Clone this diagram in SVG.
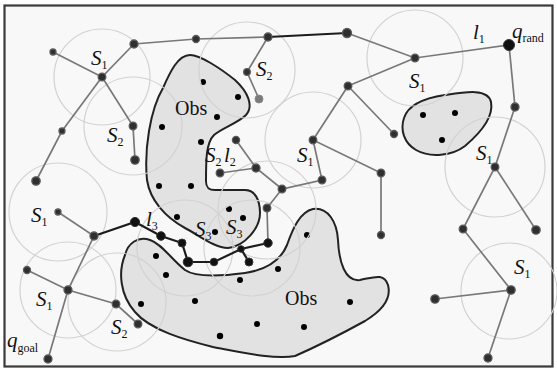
<svg xmlns="http://www.w3.org/2000/svg" width="557" height="372" viewBox="0 0 557 372">
<style>
.obs{fill:#e2e2e2;stroke:#222;stroke-width:2}
.rg{fill:none;stroke:#d2d2d2;stroke-width:1.2}
.e{stroke:#787878;stroke-width:1.7;fill:none}
.b{stroke:#1c1c1c;stroke-width:2.2;fill:none}
.n{fill:#2f2f2f;stroke:#5a5a5a;stroke-width:1.3}
.nb{fill:#111;stroke:#333;stroke-width:1}
.d{fill:#000}
.lab{font-family:"Liberation Serif",serif;font-style:italic;font-size:21px;fill:#111}
.sub{font-style:normal;font-size:12px}
.ob{font-family:"Liberation Serif",serif;font-size:20px;fill:#111}
</style>
<rect x="0" y="0" width="557" height="372" fill="#ffffff"/>
<rect x="4.5" y="5.5" width="548" height="361" fill="#f8f8f8" stroke="#3a3a3a" stroke-width="2.2"/>
<g id="obstacles">
<path class="obs" d="M190,55 C200,55 220,68 235,80 C248,92 254,106 246,115 C238,123 222,128 214,135 C206,143 206,160 206,181 C206,188 209,190 215,190 L245,190 C255,190 260,200 260,213 C260,228 245,246 228,248 C215,248 200,236 185,228 C165,217 150,200 147,180 C144,150 150,110 163,88 C170,72 178,55 190,55 Z"/>
<path class="obs" d="M125,255 C128,243 138,236 150,240 C162,244 170,258 185,270 C195,277 215,277 245,273 C265,270 280,262 287,245 C293,228 300,212 313,209 C328,207 337,222 338,240 C339,262 345,282 360,280 C372,278 384,272 388,285 C392,300 380,312 365,321 C345,332 320,345 295,356 C275,360 240,352 213,347 C185,340 150,330 135,312 C120,295 118,272 125,255 Z"/>
<path class="obs" d="M404,118 C408,105 425,98 445,95 C465,92 488,88 491,102 C494,118 478,135 465,146 C452,156 430,158 416,150 C404,143 400,130 404,118 Z"/>
<g id="obstacle-points">
<circle class="d" cx="203" cy="82" r="3"/><circle class="d" cx="238" cy="97" r="3"/><circle class="d" cx="217" cy="117" r="3"/><circle class="d" cx="162" cy="127" r="3"/><circle class="d" cx="201" cy="142" r="3"/><circle class="d" cx="159" cy="186" r="3"/><circle class="d" cx="191" cy="186" r="3"/><circle class="d" cx="177" cy="217" r="3"/><circle class="d" cx="229" cy="209" r="3"/><circle class="d" cx="243" cy="218" r="3"/><circle class="d" cx="215" cy="232" r="3"/>
<circle class="d" cx="156" cy="256" r="3"/><circle class="d" cx="166" cy="275" r="3"/><circle class="d" cx="141" cy="304" r="3"/><circle class="d" cx="307" cy="235" r="3"/><circle class="d" cx="278" cy="269" r="3"/><circle class="d" cx="240" cy="280" r="3"/><circle class="d" cx="195" cy="301" r="3"/><circle class="d" cx="257" cy="324" r="3"/><circle class="d" cx="220" cy="336" r="3.2"/><circle class="d" cx="304" cy="327" r="3"/><circle class="d" cx="350" cy="302" r="3"/>
<circle class="d" cx="423" cy="115" r="3"/><circle class="d" cx="455" cy="113" r="3"/><circle class="d" cx="442" cy="140" r="3"/>
</g>
</g>
<g id="regions">
<circle class="rg" cx="102" cy="77" r="48"/>
<circle class="rg" cx="133" cy="126" r="49"/>
<circle class="rg" cx="247" cy="70" r="48"/>
<circle class="rg" cx="415" cy="58" r="48"/>
<circle class="rg" cx="313" cy="140" r="48"/>
<circle class="rg" cx="495" cy="167" r="50"/>
<circle class="rg" cx="509" cy="291" r="48"/>
<circle class="rg" cx="58" cy="212" r="49"/>
<circle class="rg" cx="68" cy="290" r="48"/>
<circle class="rg" cx="117" cy="302" r="49"/>
<circle class="rg" cx="185" cy="248" r="48"/>
<circle class="rg" cx="267" cy="210" r="49"/>
<circle class="rg" cx="252" cy="248" r="48"/>
</g>
<g id="connectors">
<path class="e" d="M53,52 L102,77 L134,44 L196,39 L268,37"/>
<path class="b" d="M268,37 L347,33"/>
<path class="e" d="M347,33 L415,58 L509,45 L515,107 L495,167 L463,229 L511,290 L435,299"/>
<path class="e" d="M495,167 L536,230"/>
<path class="e" d="M511,290 L488,358"/>
<path class="e" d="M348,86 L415,58"/>
<path class="e" d="M348,86 L394,134"/>
<path class="e" d="M268,37 L247,72 L259,99"/>
<path class="e" d="M348,86 L313,140 L381,173 L381,235"/>
<path class="e" d="M313,140 L322,180 L282,189 L256,168 L236,140"/>
<path class="e" d="M256,168 L220,173"/>
<path class="e" d="M282,189 L267,208 L268,243"/>
<path class="b" d="M268,243 L241,249 L214,262 L188,262 L182,243 L161,236 L135,222 L94,236"/>
<path class="b" d="M241,249 L249,262"/>
<path class="e" d="M58,212 L94,236 L68,290 L48,359"/>
<path class="e" d="M27,270 L68,290 L116,304 L138,324"/>
<path class="e" d="M102,77 L62,131 L36,181"/>
<path class="e" d="M102,77 L133,126 L135,160"/>
</g>
<g id="nodes">
<g id="n1"><circle class="n" cx="53" cy="52" r="3"/></g>
<g id="n2"><circle class="n" cx="102" cy="77" r="3.8"/></g>
<g id="n3"><circle class="n" cx="134" cy="44" r="4"/></g>
<g id="n4"><circle class="n" cx="196" cy="39" r="3.5"/></g>
<g id="n5"><circle class="n" cx="268" cy="37" r="4"/></g>
<g id="n6"><circle class="n" cx="347" cy="33" r="4.5"/></g>
<g id="n7"><circle class="n" cx="415" cy="58" r="3.8"/></g>
<g id="qrand"><circle class="nb" cx="509" cy="45" r="5.5"/></g>
<g id="n9"><circle class="n" cx="515" cy="107" r="4"/></g>
<g id="n10"><circle class="n" cx="495" cy="167" r="3.8"/></g>
<g id="n11"><circle class="n" cx="463" cy="229" r="3.8"/></g>
<g id="n12"><circle class="n" cx="536" cy="230" r="4.2"/></g>
<g id="n13"><circle class="n" cx="511" cy="290" r="4.2"/></g>
<g id="n14"><circle class="n" cx="435" cy="299" r="4.2"/></g>
<g id="n15"><circle class="n" cx="488" cy="358" r="4"/></g>
<g id="n16"><circle class="n" cx="247" cy="72" r="3.3"/></g>
<g id="qnew"><circle cx="259" cy="99" r="4" fill="#7a7a7a" stroke="#8a8a8a"/></g>
<g id="n18"><circle class="n" cx="348" cy="86" r="3.8"/></g>
<g id="n19"><circle class="n" cx="394" cy="134" r="3.5"/></g>
<g id="n20"><circle class="n" cx="313" cy="140" r="3.8"/></g>
<g id="n21"><circle class="n" cx="381" cy="173" r="3.8"/></g>
<g id="n22"><circle class="n" cx="381" cy="235" r="3.5"/></g>
<g id="n23"><circle class="n" cx="322" cy="180" r="3.8"/></g>
<g id="n24"><circle class="n" cx="282" cy="189" r="3.8"/></g>
<g id="n25"><circle class="n" cx="256" cy="168" r="4"/></g>
<g id="n26"><circle class="n" cx="236" cy="140" r="3.6"/></g>
<g id="n27"><circle class="n" cx="220" cy="173" r="3.8"/></g>
<g id="n28"><circle class="n" cx="267" cy="208" r="3.8"/></g>
<g id="n29"><circle class="nb" cx="268" cy="243" r="4.2"/></g>
<g id="n30"><circle class="nb" cx="241" cy="249" r="3.3"/></g>
<g id="n31"><circle class="nb" cx="249" cy="262" r="4"/></g>
<g id="n32"><circle class="nb" cx="214" cy="262" r="3.8"/></g>
<g id="n33"><circle class="nb" cx="188" cy="262" r="4.8"/></g>
<g id="n34"><circle class="nb" cx="182" cy="243" r="4"/></g>
<g id="n35"><circle class="nb" cx="161" cy="236" r="4.3"/></g>
<g id="n36"><circle class="nb" cx="135" cy="222" r="4.6"/></g>
<g id="n37"><circle class="n" cx="94" cy="236" r="4"/></g>
<g id="n38"><circle class="n" cx="58" cy="212" r="3"/></g>
<g id="n39"><circle class="n" cx="68" cy="290" r="4"/></g>
<g id="n40"><circle class="n" cx="27" cy="270" r="3.5"/></g>
<g id="n41"><circle class="n" cx="116" cy="304" r="3.8"/></g>
<g id="n42"><circle class="n" cx="138" cy="324" r="3.8"/></g>
<g id="qgoal"><circle class="n" cx="48" cy="359" r="4"/></g>
<g id="n44"><circle class="n" cx="62" cy="131" r="3"/></g>
<g id="n45"><circle class="n" cx="36" cy="181" r="4.2"/></g>
<g id="n46"><circle class="n" cx="133" cy="126" r="3.8"/></g>
<g id="n47"><circle class="n" cx="135" cy="160" r="4.2"/></g>
</g>
<g id="labels">
<text class="ob" x="175" y="115">Obs</text>
<text class="ob" x="285" y="305">Obs</text>
<text class="lab" x="91" y="65">S<tspan class="sub" dx="0" dy="4">1</tspan></text>
<text class="lab" x="107" y="142">S<tspan class="sub" dy="4">2</tspan></text>
<text class="lab" x="256" y="76">S<tspan class="sub" dy="4">2</tspan></text>
<text class="lab" x="473" y="39">l<tspan class="sub" dy="4">1</tspan></text>
<text class="lab" x="512" y="38">q<tspan class="sub" dy="4">rand</tspan></text>
<text class="lab" x="409" y="88">S<tspan class="sub" dy="4">1</tspan></text>
<text class="lab" x="297" y="162">S<tspan class="sub" dy="4">1</tspan></text>
<text class="lab" x="476" y="160">S<tspan class="sub" dy="4">1</tspan></text>
<text class="lab" x="514" y="274">S<tspan class="sub" dy="4">1</tspan></text>
<text class="lab" x="31" y="222">S<tspan class="sub" dy="4">1</tspan></text>
<text class="lab" x="146" y="226">l<tspan class="sub" dy="4">3</tspan></text>
<text class="lab" x="195" y="236">S<tspan class="sub" dy="4">3</tspan></text>
<text class="lab" x="226" y="234">S<tspan class="sub" dy="4">3</tspan></text>
<text class="lab" x="205" y="162">S<tspan class="sub" dy="4">2</tspan></text>
<text class="lab" x="224" y="162">l<tspan class="sub" dy="4">2</tspan></text>
<text class="lab" x="36" y="306">S<tspan class="sub" dy="4">1</tspan></text>
<text class="lab" x="111" y="334">S<tspan class="sub" dy="4">2</tspan></text>
<text class="lab" x="7" y="347">q<tspan class="sub" dy="5">goal</tspan></text>
</g>
</svg>
